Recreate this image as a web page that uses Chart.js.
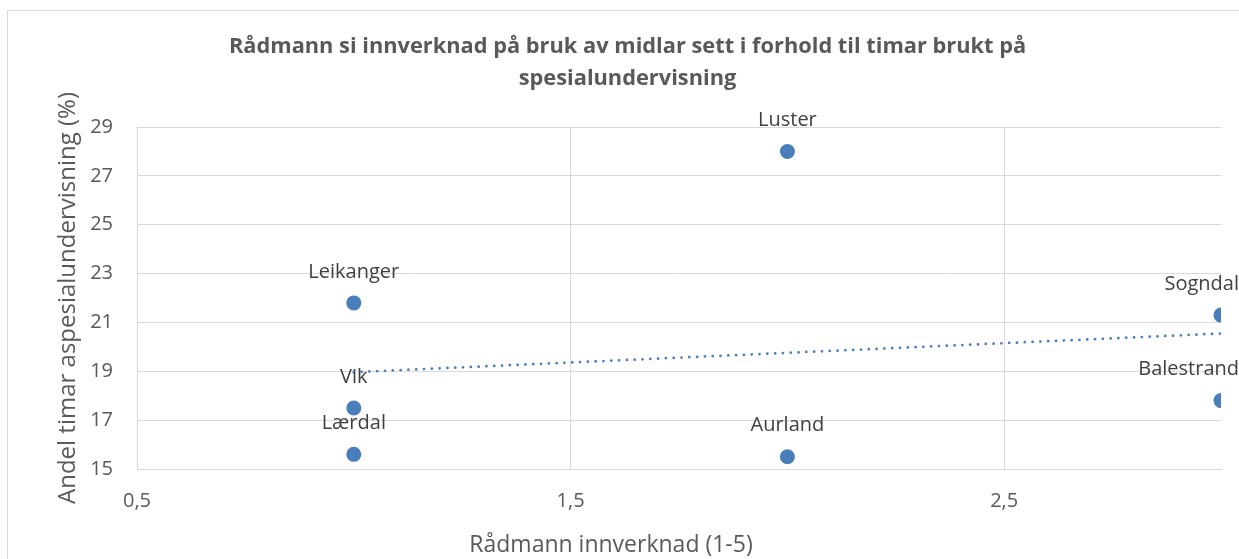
<!DOCTYPE html>
<html><head><meta charset="utf-8">
<script src="https://cdn.jsdelivr.net/npm/chart.js@4/dist/chart.umd.min.js"></script>
<style>
html,body{margin:0;padding:0;background:#fff;}
#wrap{position:relative;width:1239px;height:559px;overflow:hidden;}
#frame{position:absolute;left:7px;top:10px;width:1300px;height:600px;border:1px solid #d9d9d9;box-sizing:border-box;}
canvas{position:absolute;left:0;top:0;}
</style></head><body>
<div id="wrap"><div id="frame"></div><canvas id="c" width="1239" height="559"></canvas></div>
<script>
// Data
const kommunar = ['Luster', 'Leikanger', 'Sogndal', 'Vik', 'Balestrand', 'Lærdal', 'Aurland'];
const innverknad = [2, 1, 3, 1, 3, 1, 2];
const timarProsent = [28, 21.8, 21.3, 17.5, 17.8, 15.6, 15.5];
const xTicks = [0.5, 1.5, 2.5];
const yTicks = [15, 17, 19, 21, 23, 25, 27, 29];
const titleLines = ['Rådmann si innverknad på bruk av midlar sett i forhold til timar brukt på', 'spesialundervisning'];
const xTitle = 'Rådmann innverknad (1-5)';
const yTitle = 'Andel timar aspesialundervisning (%)';

// Linear trendline (least squares) from the data, drawn between min and max x
const n = innverknad.length;
const mx = innverknad.reduce((a, b) => a + b, 0) / n;
const my = timarProsent.reduce((a, b) => a + b, 0) / n;
let sxy = 0, sxx = 0;
for (let i = 0; i < n; i++) { sxy += (innverknad[i] - mx) * (timarProsent[i] - my); sxx += (innverknad[i] - mx) ** 2; }
const slope = sxy / sxx, icpt = my - slope * mx;
const xMin = Math.min(...innverknad), xMax = Math.max(...innverknad);
const trend = [{x: xMin, y: icpt + slope * xMin}, {x: xMax, y: icpt + slope * xMax}];

const BLUE = '#4a7ebb';
const FONT = "'Open Sans', sans-serif";
const fmt = v => String(v).replace('.', ',');

const labelPlugin = {
  id: 'pointLabels',
  afterDatasetsDraw(chart) {
    const meta = chart.getDatasetMeta(0);
    const ctx = chart.ctx;
    ctx.save();
    ctx.font = "20px " + FONT;
    ctx.fillStyle = '#404040';
    ctx.textAlign = 'center';
    ctx.textBaseline = 'middle';
    meta.data.forEach((el, i) => {
      const w = ctx.measureText(kommunar[i]).width;
      const x = Math.min(el.x, chart.width - w / 2);
      ctx.fillText(kommunar[i], x, el.y - 31);
    });
    // x-axis title, centred on the whole chart like the reference
    ctx.font = "23px " + FONT;
    ctx.fillStyle = '#595959';
    ctx.fillText(xTitle, 611, 545);
    ctx.restore();
  }
};

new Chart(document.getElementById('c'), {
  type: 'scatter',
  data: {
    datasets: [
      {
        label: 'Kommunar',
        data: innverknad.map((x, i) => ({x, y: timarProsent[i]})),
        backgroundColor: BLUE, borderColor: BLUE, borderWidth: 0,
        pointRadius: 7.5, pointHoverRadius: 7.5, order: 1
      },
      {
        type: 'line', label: 'Trend', data: trend,
        borderColor: BLUE, borderWidth: 2.75, borderDash: [0.01, 7.8], borderCapStyle: 'round',
        pointRadius: 0, fill: false, order: 2
      }
    ]
  },
  options: {
    responsive: false, animation: false, events: [],
    layout: {padding: {left: 34, right: 18, top: 0, bottom: 0}},
    plugins: {
      legend: {display: false}, tooltip: {enabled: false},
      title: {
        display: true, text: titleLines, color: '#595959',
        font: {family: FONT, size: 21.8, weight: 'bold', lineHeight: '32px'},
        padding: {top: 31, bottom: 32}
      }
    },
    scales: {
      x: {
        type: 'linear', min: 0.5, max: 3,
        afterBuildTicks: s => { s.ticks = xTicks.map(v => ({value: v})); },
        afterFit: s => { s.height = 90; },
        ticks: {padding: 20, color: '#595959', font: {family: FONT, size: 20}, callback: v => fmt(v)},
        grid: {color: '#d9d9d9', lineWidth: 1, drawTicks: false},
        border: {color: '#d9d9d9', width: 1},
        title: {display: false}
      },
      y: {
        type: 'linear', min: 15, max: 29,
        afterBuildTicks: s => { s.ticks = yTicks.map(v => ({value: v})); },
        afterFit: s => { s.width = 103; },
        ticks: {padding: 24, color: '#595959', font: {family: FONT, size: 20}, callback: v => fmt(v)},
        grid: {color: '#d9d9d9', lineWidth: 1, drawTicks: false},
        border: {color: '#d9d9d9', width: 1},
        title: {display: true, text: yTitle, color: '#595959', font: {family: FONT, size: 24}, padding: {top: 19.5, bottom: 0}}
      }
    }
  },
  plugins: [labelPlugin]
});
</script>
</body></html>
